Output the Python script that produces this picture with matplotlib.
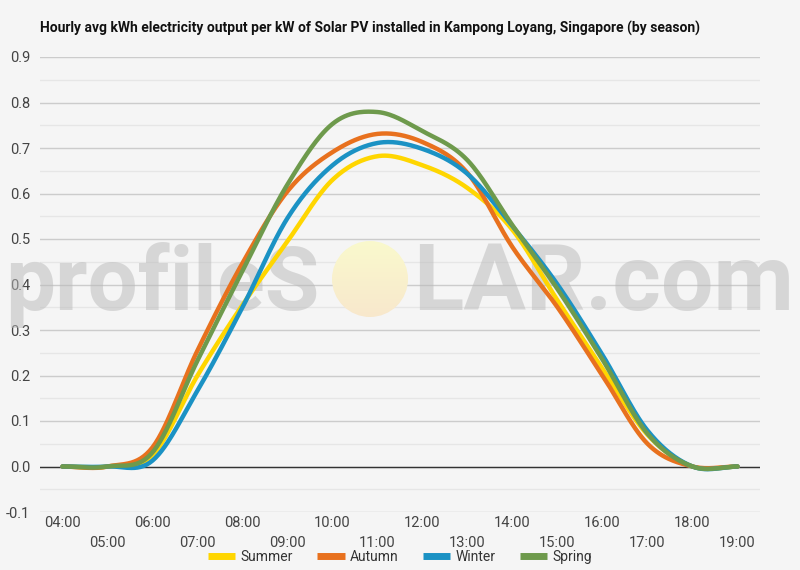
import numpy as np
import matplotlib
matplotlib.use("Agg")
import matplotlib.pyplot as plt
from matplotlib.patches import Ellipse

# ---- data ----
hours = [4, 5, 6, 7, 8, 9, 10, 11, 12, 13, 14, 15, 16, 17, 18, 19]
hour_labels = ["04:00", "05:00", "06:00", "07:00", "08:00", "09:00", "10:00", "11:00",
               "12:00", "13:00", "14:00", "15:00", "16:00", "17:00", "18:00", "19:00"]
summer = [0.0, 0.0, 0.025, 0.200, 0.355, 0.495, 0.630, 0.682, 0.662, 0.612, 0.520, 0.365, 0.215, 0.070, 0.0, 0.0]
autumn = [0.0, 0.0, 0.042, 0.255, 0.447, 0.605, 0.691, 0.731, 0.713, 0.645, 0.482, 0.350, 0.200, 0.050, 0.0, 0.0]
winter = [0.0, 0.0, 0.013, 0.167, 0.350, 0.546, 0.662, 0.711, 0.698, 0.643, 0.528, 0.400, 0.245, 0.079, 0.0, 0.0]
spring = [0.0, 0.0, 0.031, 0.233, 0.430, 0.620, 0.753, 0.779, 0.737, 0.673, 0.530, 0.390, 0.235, 0.072, 0.0, 0.0]
series_names = ["Summer", "Autumn", "Winter", "Spring"]
series_colors = ["#FFD600", "#E8711E", "#1B92C4", "#6E9A4C"]
title = "Hourly avg kWh electricity output per kW of Solar PV installed in Kampong Loyang, Singapore (by season)"


def smooth(x, y, n=30):
    x = np.asarray(x, float)
    y = np.asarray(y, float)
    m = np.zeros_like(y)
    m[1:-1] = (y[2:] - y[:-2]) / (x[2:] - x[:-2])
    xs, ys = [], []
    for i in range(len(x) - 1):
        h = x[i + 1] - x[i]
        t = np.linspace(0, 1, n, endpoint=False)
        h00 = 2 * t**3 - 3 * t**2 + 1
        h10 = t**3 - 2 * t**2 + t
        h01 = -2 * t**3 + 3 * t**2
        h11 = t**3 - t**2
        xs.append(x[i] + t * h)
        ys.append(h00 * y[i] + h10 * h * m[i] + h01 * y[i + 1] + h11 * h * m[i + 1])
    xs.append([x[-1]])
    ys.append([y[-1]])
    return np.concatenate(xs), np.concatenate(ys)


plt.rcParams['font.family'] = ['Roboto', 'DejaVu Sans']
bg = "#f5f5f5"
W, H = 800, 570
fig = plt.figure(figsize=(8, 5.7), dpi=100, facecolor=bg)
ax = fig.add_axes([40 / W, 58 / H, 720 / W, 455 / H], facecolor=bg)

for name, vals, col in zip(series_names, [summer, autumn, winter, spring], series_colors):
    sx, sy = smooth(hours, vals)
    ax.plot(sx, sy, color=col, lw=3.2, label=name, solid_capstyle='round', zorder=3)

ax.set_xlim(3.5, 19.5)
ax.set_ylim(-0.1, 0.9)
yt = np.round(np.arange(-0.1, 0.91, 0.1), 1)
ax.set_yticks(yt)
ax.set_yticklabels([f"{v:.1f}" for v in yt])
ax.set_yticks(np.arange(-0.05, 0.9, 0.1), minor=True)
ax.grid(axis='y', which='major', color='#cccccc', lw=1)
ax.grid(axis='y', which='minor', color='#e6e6e6', lw=1)
ax.axhline(0, color='#333333', lw=1, zorder=2)
ax.set_axisbelow(True)

ax.set_xticks(hours[0::2])
ax.set_xticklabels(hour_labels[0::2])
ax.set_xticks(hours[1::2], minor=True)
ax.set_xticklabels(hour_labels[1::2], minor=True)
ax.tick_params(axis='x', which='major', length=0, pad=3, labelsize=10.5, labelcolor='#444444')
ax.tick_params(axis='x', which='minor', length=0, pad=17, labelsize=10.5, labelcolor='#444444')
ax.tick_params(axis='y', which='both', length=0, pad=7, labelsize=10.5, labelcolor='#444444')
for s in ax.spines.values():
    s.set_visible(False)

fig.text(40 / W, 1 - 28 / H, title, fontsize=10, fontweight='bold', color='#111111',
         ha='left', va='center')

# watermark (between gridlines and series lines)
to_fig = matplotlib.transforms.Affine2D().scale(1 / W, -1 / H).translate(0, 1) + fig.transFigure
ax.text(5, 310, "profileS", fontsize=64, fontweight='bold', color='#b9b9b9', alpha=0.5,
        ha='left', va='baseline', transform=to_fig, zorder=2.5, clip_on=False)
ax.text(413, 310, "LAR.com", fontsize=67, fontweight='bold', color='#b9b9b9', alpha=0.5,
        ha='left', va='baseline', transform=to_fig, zorder=2.5, clip_on=False)

inv = ax.transData.inverted()
(cx0, cy0) = inv.transform(to_fig.transform((370 - 38, 279 + 38)))
(cx1, cy1) = inv.transform(to_fig.transform((370 + 38, 279 - 38)))
ell = Ellipse(((cx0 + cx1) / 2, (cy0 + cy1) / 2), cx1 - cx0, cy1 - cy0,
              facecolor='none', edgecolor='none', transform=ax.transData)
ax.add_patch(ell)
grad = np.zeros((64, 1, 3))
top = np.array([250, 249, 205]) / 255
bot = np.array([248, 232, 204]) / 255
for i in range(64):
    f = i / 63
    grad[i, 0] = top * (1 - f) + bot * f
im = ax.imshow(grad, extent=(cx0, cx1, cy0, cy1), origin='upper', aspect='auto',
               zorder=2.5, interpolation='bilinear')
im.set_clip_path(ell)
ax.set_xlim(3.5, 19.5)
ax.set_ylim(-0.1, 0.9)

handles, labels = ax.get_legend_handles_labels()
leg = fig.legend(handles, labels, loc='center', bbox_to_anchor=(0.5, 1 - 557 / H), ncol=4,
                 frameon=False, fontsize=10, handlelength=2.0, handletextpad=0.4,
                 columnspacing=1.7, labelcolor='#333333')
for ln in leg.get_lines():
    ln.set_linewidth(5)
    ln.set_solid_capstyle('butt')

fig.savefig("out.png", dpi=100, facecolor=bg)
